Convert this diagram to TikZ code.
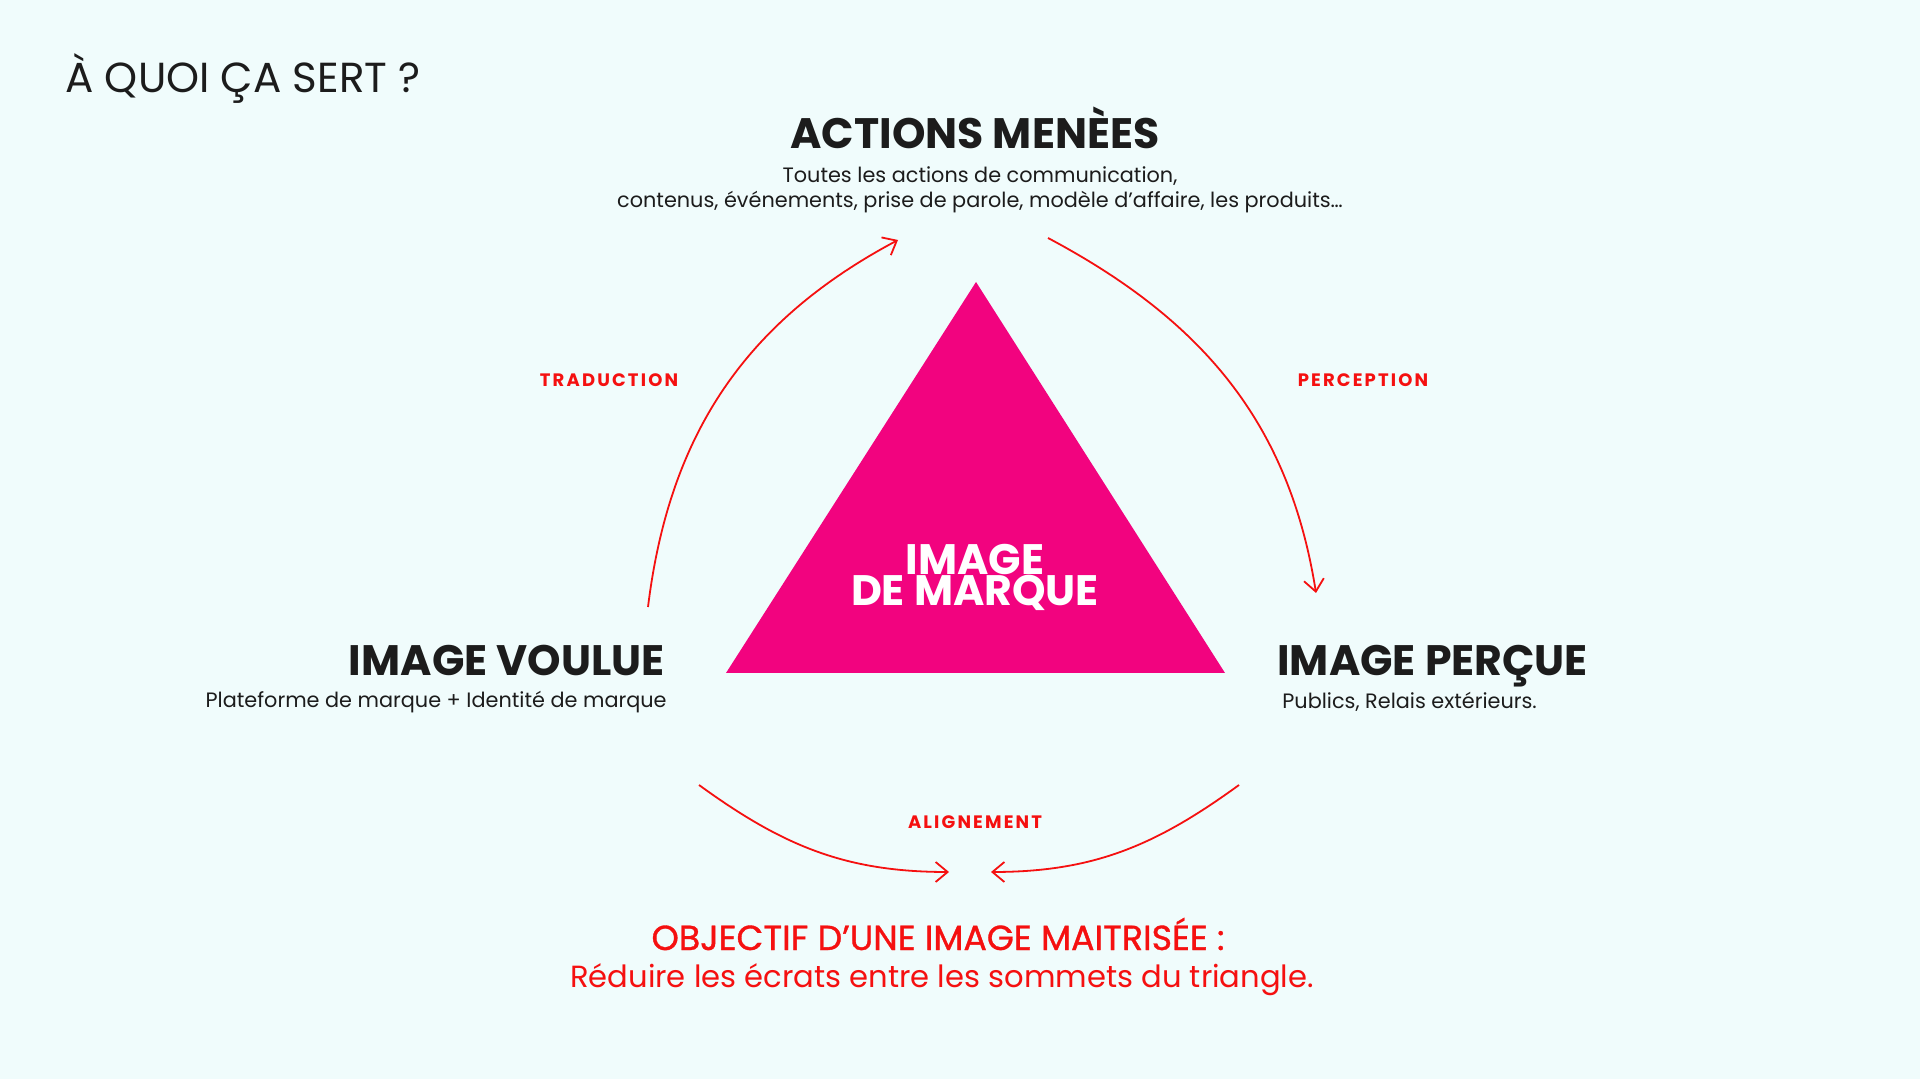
\documentclass[tikz,border=0pt]{standalone}
\usepackage{fontspec}
\setmainfont{Poppins}
\usetikzlibrary{arrows.meta,positioning}
\definecolor{bgc}{HTML}{F0FCFC}
\definecolor{tric}{HTML}{F2037F}
\definecolor{linkc}{HTML}{F51010}
\definecolor{inkc}{HTML}{1C1C1C}

\begin{document}
\begin{tikzpicture}[x=0.5pt,y=0.5pt,inner sep=0pt,
    link/.style={draw=linkc,line width=0.9pt,-{Straight Barb[length=6pt,width=10pt]}},
    linklab/.style={text=linkc,font=\bfseries\fontsize{9}{10}\selectfont\addfontfeatures{LetterSpace=12}},
    head/.style={text=inkc,font=\bfseries\fontsize{21.3}{24}\selectfont},
    sub/.style={text=inkc,font=\fontsize{10.4}{12.5}\selectfont}]
  \fill[bgc] (0,0) rectangle (1920,1079);
  \useasboundingbox (0,0) rectangle (1920,1079);
  % titre
  \node[anchor=base west,text=inkc,font=\fontsize{21}{24}\selectfont] (titre) at (65,986) {À QUOI ÇA SERT ?};
  % triangle
  \fill[tric] (976,797) -- (726,406) -- (1225,406) -- cycle;
  \node[text=white,align=center,font=\bfseries\fontsize{21.3}{15.5}\selectfont] (marque) at (975,502) {IMAGE\\DE MARQUE};
  % sommets
  \node[head] (actions) at (975,951) {ACTIONS MENÈES};
  \node[sub,align=center] (actionsub) at (980,889) {Toutes les actions de communication,\\contenus, événements, prise de parole, modèle d’affaire, les produits\dots};
  \node[head,anchor=base east] (voulue) at (665,403) {IMAGE VOULUE};
  \node[sub,anchor=east] (voulsub) at (667,377) {Plateforme de marque + Identité de marque};
  \node[head,anchor=base west] (percue) at (1277,403) {IMAGE PERÇUE};
  \node[sub,anchor=west] (percsub) at (1282,377) {Publics, Relais extérieurs.};
  % liens
  \coordinate (tradA) at (648,472);
  \coordinate (tradB) at (898,839);
  \coordinate (percA) at (1048,841);
  \coordinate (percB) at (1316,486);
  \coordinate (aligA) at (699,294);
  \coordinate (aligB) at (949,207);
  \coordinate (aligC) at (1239,294);
  \coordinate (aligD) at (991,207);
  \draw[link] (tradA) to[out=83,in=-152] (tradB);
  \draw[link] (percA) to[out=-28,in=99] (percB);
  \draw[link] (aligA) to[out=-36,in=180] (aligB);
  \draw[link] (aligC) to[out=-144,in=0] (aligD);
  \node[linklab] (traduction) at (609,699) {TRADUCTION};
  \node[linklab] (perception) at (1363,699) {PERCEPTION};
  \node[linklab] (alignement) at (975,257) {ALIGNEMENT};
  % objectif
  \node[text=linkc,font=\fontsize{17.4}{20}\selectfont\addfontfeatures{FakeBold=1}] (objectif) at (938,145) {OBJECTIF D’UNE IMAGE MAITRISÉE :};
  \node[text=linkc,font=\fontsize{15.3}{18}\selectfont] (reduire) at (942,99) {Réduire les écrats entre les sommets du triangle.};
\end{tikzpicture}
\end{document}
